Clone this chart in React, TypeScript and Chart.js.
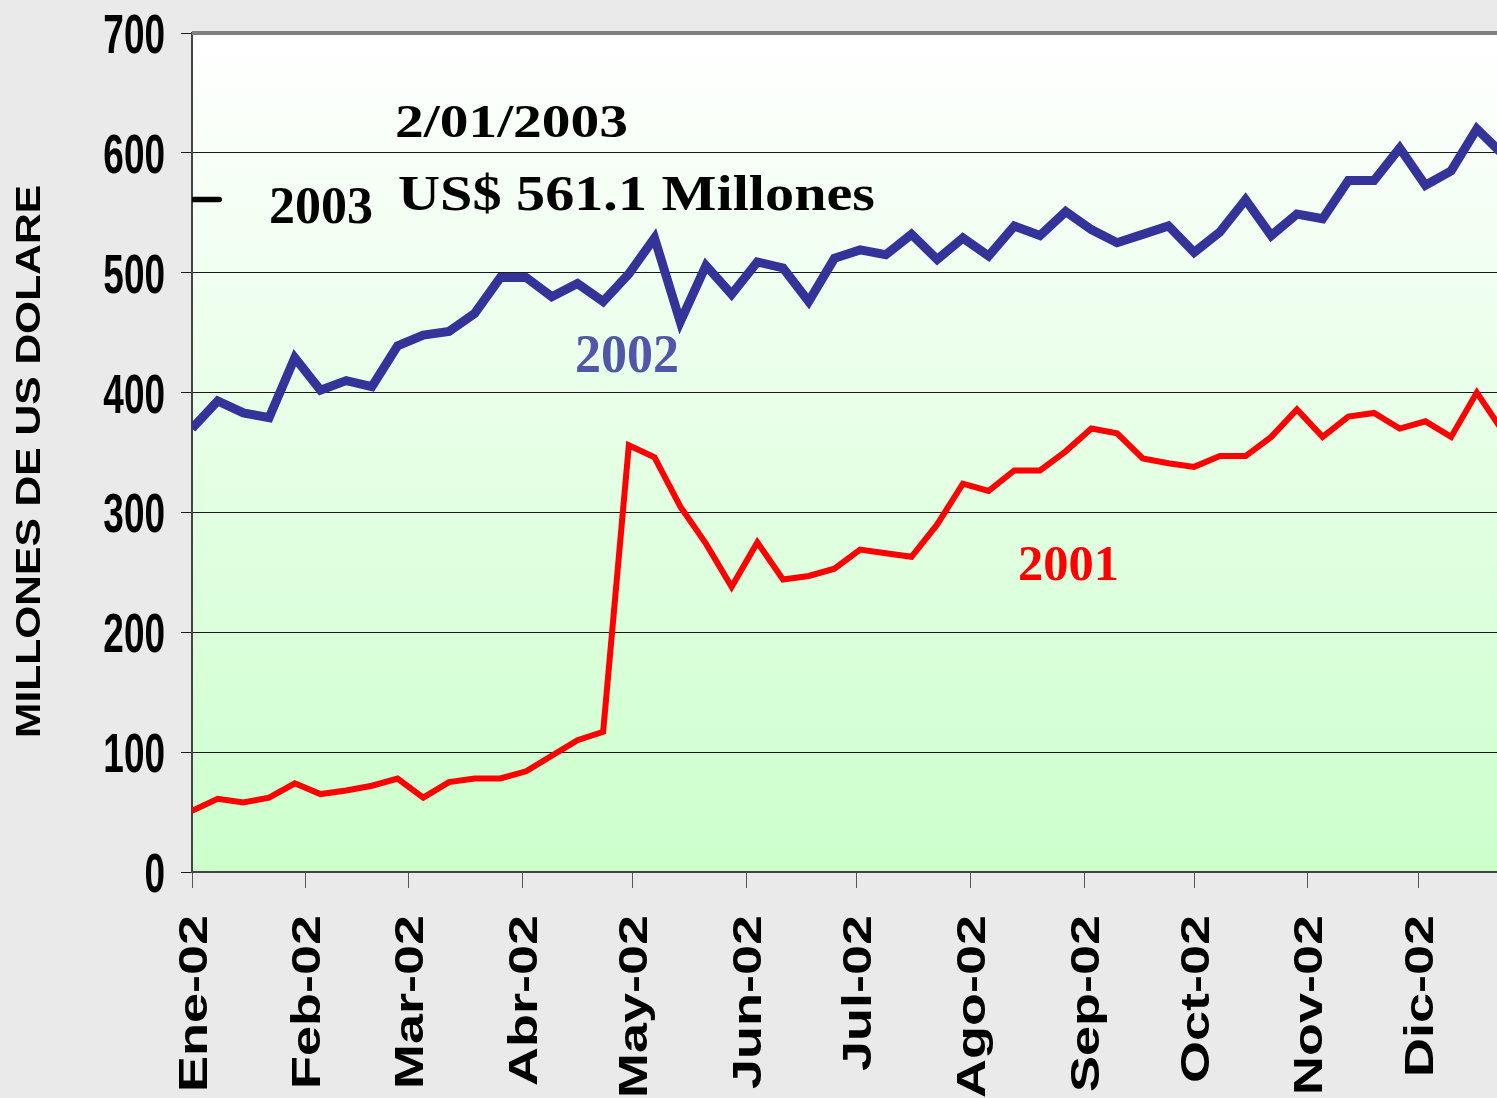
import { useEffect, useRef } from 'react';
import { Chart, registerables } from 'chart.js';

Chart.register(...registerables);

// Weekly observation days (days since 1 Jan 2002)
const weekDays = [
  0, 7, 14, 21, 28, 35, 42, 49, 56, 63, 70, 77, 84, 91, 98, 105, 112, 119, 126, 133,
  140, 147, 154, 161, 168, 175, 182, 189, 196, 203, 210, 217, 224, 231, 238, 245, 252,
  259, 266, 273, 280, 287, 294, 301, 308, 315, 322, 329, 336, 343, 350, 357,
];

// 2002 series (millones US$)
const series2002 = [
  370, 393, 383, 379, 429, 402, 410, 405, 439, 448, 451, 466, 496, 496, 480, 491, 476,
  499, 529, 459, 506, 482, 509, 504, 476, 512, 519, 515, 532, 511, 529, 514, 539, 531,
  551, 536, 525, 532, 539, 517, 534, 561, 531, 549, 545, 577, 577, 604, 573, 585, 620, 599,
];

// 2001 series (millones US$)
const series2001 = [
  51, 61, 58, 62, 74, 65, 68, 72, 78, 62, 75, 78, 78, 84, 97, 110, 117, 356, 346, 305,
  274, 238, 275, 244, 247, 253, 269, 266, 263, 290, 324, 318, 335, 335, 351, 370, 366,
  345, 341, 338, 347, 347, 363, 386, 363, 380, 383, 370, 376, 363, 400, 368,
];

// 2003 single value (2/01/2003)
const days2003 = [0.4, 7.4];
const series2003 = [561.1, 561.1];

const monthTicks = [0, 31, 59, 90, 120, 151, 181, 212, 243, 273, 304, 334];
const monthLabels = [
  'Ene-02', 'Feb-02', 'Mar-02', 'Abr-02', 'May-02', 'Jun-02',
  'Jul-02', 'Ago-02', 'Sep-02', 'Oct-02', 'Nov-02', 'Dic-02',
];
const yMin = 0;
const yMax = 700;
const yStep = 100;
const xMax = 355.5;

const yTitle = 'MILLONES DE US DOLARE';
const noteDate = '2/01/2003';
const noteValue = 'US$ 561.1 Millones';
const label2003 = '2003';
const label2002 = '2002';
const label2001 = '2001';

const SANS = "'Liberation Sans', Arial, sans-serif";
const SERIF = "'Liberation Serif', 'Times New Roman', serif";

function drawFitText(
  ctx: CanvasRenderingContext2D,
  text: string,
  x: number,
  baseline: number,
  font: string,
  color: string,
  width: number,
) {
  ctx.save();
  ctx.font = font;
  ctx.fillStyle = color;
  ctx.textAlign = 'left';
  ctx.textBaseline = 'alphabetic';
  const w = ctx.measureText(text).width || 1;
  ctx.translate(x, baseline);
  ctx.scale(width / w, 1);
  ctx.fillText(text, 0, 0);
  ctx.restore();
}

export default function App() {
  const ref = useRef<HTMLCanvasElement>(null);

  useEffect(() => {
    const canvas = ref.current;
    if (!canvas) return;

    const decor = {
      id: 'decor',
      beforeDraw(chart: any) {
        const { ctx, chartArea: a, width, height } = chart;
        ctx.save();
        ctx.fillStyle = '#eaeaea';
        ctx.fillRect(0, 0, width, height);
        const g = ctx.createLinearGradient(0, a.top, 0, a.bottom);
        g.addColorStop(0, '#ffffff');
        g.addColorStop(1, '#ccffcc');
        ctx.fillStyle = g;
        ctx.fillRect(a.left, a.top, a.right - a.left, a.bottom - a.top);
        ctx.restore();
      },
      afterDatasetsDraw(chart: any) {
        const { ctx, chartArea: a } = chart;
        ctx.save();
        ctx.strokeStyle = '#808080';
        ctx.lineWidth = 4;
        ctx.beginPath();
        ctx.moveTo(a.left, a.top);
        ctx.lineTo(a.right, a.top);
        ctx.stroke();
        ctx.restore();

        drawFitText(ctx, noteDate, 395, 137, `bold 47px ${SERIF}`, '#000000', 233);
        drawFitText(ctx, noteValue, 398, 210, `bold 50px ${SERIF}`, '#000000', 477);
        drawFitText(ctx, label2003, 269, 223, `bold 52px ${SERIF}`, '#000000', 104);
        drawFitText(ctx, label2002, 575, 372, `bold 54px ${SERIF}`, '#5156a8', 104);
        drawFitText(ctx, label2001, 1018, 580, `bold 51px ${SERIF}`, '#ff0000', 101);
      },
      afterDraw(chart: any) {
        const { ctx } = chart;
        const xs = chart.scales.x;
        const ys = chart.scales.y;

        // Y tick labels (condensed, tall)
        ctx.save();
        ctx.fillStyle = '#000000';
        ctx.font = `bold 56px ${SANS}`;
        ctx.textAlign = 'right';
        ctx.textBaseline = 'alphabetic';
        for (const t of ys.ticks) {
          const y = ys.getPixelForValue(t.value);
          ctx.save();
          ctx.translate(165, y + 20);
          ctx.scale(0.66, 1);
          ctx.fillText(String(t.label), 0, 0);
          ctx.restore();
        }
        ctx.restore();

        // X tick labels (rotated, stretched along text)
        ctx.save();
        ctx.fillStyle = '#000000';
        ctx.font = `bold 40px ${SANS}`;
        ctx.textAlign = 'right';
        ctx.textBaseline = 'alphabetic';
        for (const t of xs.ticks) {
          const x = xs.getPixelForValue(t.value);
          ctx.save();
          ctx.translate(x + 14.5, 915);
          ctx.rotate(-Math.PI / 2);
          ctx.scale(1.35, 1);
          ctx.fillText(String(t.label), 0, 0);
          ctx.restore();
        }
        ctx.restore();

        // Y axis title
        ctx.save();
        ctx.fillStyle = '#000000';
        ctx.font = `bold 35px ${SANS}`;
        ctx.textAlign = 'center';
        ctx.textBaseline = 'alphabetic';
        const w = ctx.measureText(yTitle).width || 1;
        ctx.translate(40, 461.5);
        ctx.rotate(-Math.PI / 2);
        ctx.scale(553 / w, 1);
        ctx.fillText(yTitle, 0, 0);
        ctx.restore();
      },
    };

    const chart = new Chart(canvas, {
      type: 'line',
      data: {
        datasets: [
          {
            label: '2003',
            data: days2003.map((d, i) => ({ x: d, y: series2003[i] })),
            borderColor: '#000000',
            borderWidth: 5.5,
            borderCapStyle: 'round',
            pointRadius: 0,
            tension: 0,
          },
          {
            label: '2002',
            data: weekDays.map((d, i) => ({ x: d, y: series2002[i] })),
            borderColor: '#333399',
            borderWidth: 9,
            borderJoinStyle: 'miter',
            pointRadius: 0,
            tension: 0,
          },
          {
            label: '2001',
            data: weekDays.map((d, i) => ({ x: d, y: series2001[i] })),
            borderColor: '#ff0000',
            borderWidth: 6,
            borderJoinStyle: 'miter',
            pointRadius: 0,
            tension: 0,
          },
        ],
      },
      options: {
        animation: false,
        responsive: false,
        maintainAspectRatio: false,
        layout: { autoPadding: false, padding: { top: 33, left: 0, right: 0, bottom: 0 } },
        plugins: {
          legend: { display: false },
          tooltip: { enabled: false },
          title: { display: false },
        },
        scales: {
          x: {
            type: 'linear',
            min: 0,
            max: xMax,
            afterBuildTicks: (s: any) => {
              s.ticks = monthTicks.map((v) => ({ value: v }));
            },
            afterFit: (s: any) => {
              s.height = 226;
            },
            ticks: {
              display: false,
              autoSkip: false,
              callback: (v: any) => {
                const idx = monthTicks.indexOf(Number(v));
                return idx >= 0 ? monthLabels[idx] : '';
              },
            },
            grid: {
              drawOnChartArea: false,
              drawTicks: true,
              tickLength: 16,
              color: '#555555',
              lineWidth: 1,
            },
            border: { display: true, color: '#444444', width: 2 },
          },
          y: {
            min: yMin,
            max: yMax,
            afterFit: (s: any) => {
              s.width = 192;
            },
            ticks: {
              display: false,
              stepSize: yStep,
            },
            grid: {
              color: '#1a1a1a',
              lineWidth: 1,
              drawTicks: true,
              tickLength: 11,
            },
            border: { display: true, color: '#444444', width: 2 },
            title: { display: false, text: yTitle },
          },
        },
      } as any,
      plugins: [decor],
    });

    return () => chart.destroy();
  }, []);

  return (
    <div
      style={{
        position: 'absolute',
        left: 0,
        top: 0,
        width: 1497,
        height: 1098,
        background: '#eaeaea',
        overflow: 'hidden',
      }}
    >
      <canvas
        ref={ref}
        width={1497}
        height={1098}
        style={{ display: 'block', width: 1497, height: 1098 }}
      />
    </div>
  );
}
